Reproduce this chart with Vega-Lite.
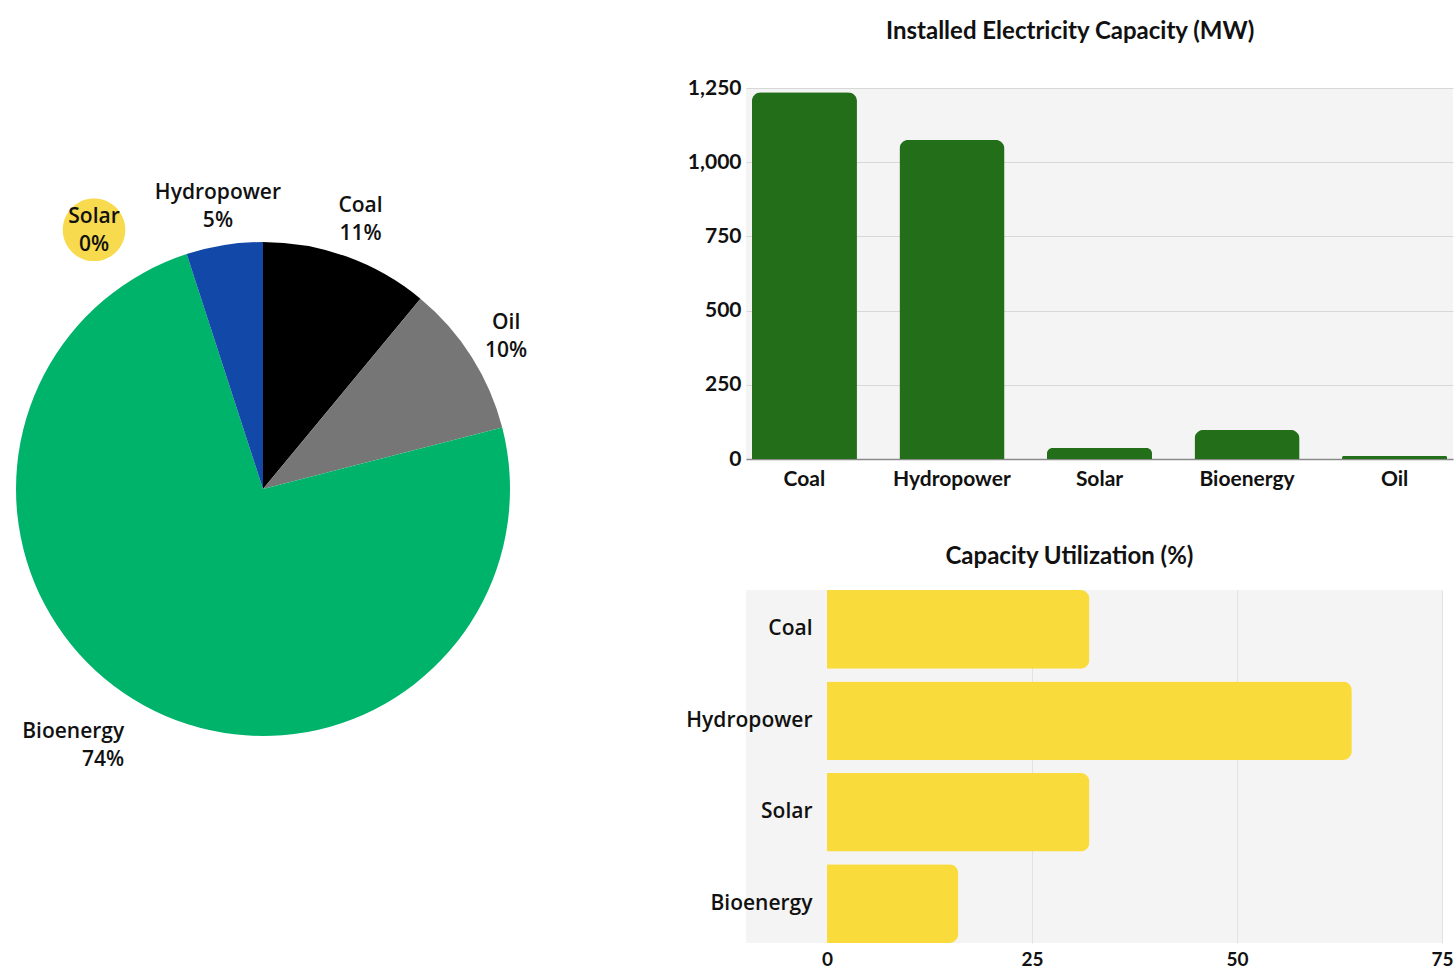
{
  "$schema": "https://vega.github.io/schema/vega-lite/v6.json",
  "padding": {"top": 20, "left": 0, "right": 0, "bottom": 0},
  "background": "#ffffff",
  "config": {"view": {"stroke": null}},
  "datasets": {
    "share": [
      {"k": 1, "source": "Coal", "share": 11, "label": "Coal\n11%"},
      {"k": 2, "source": "Oil", "share": 10, "label": "Oil\n10%"},
      {"k": 3, "source": "Bioenergy", "share": 74, "label": "Bioenergy\n74%"},
      {"k": 4, "source": "Hydropower", "share": 5, "label": "Hydropower\n5%"},
      {"k": 5, "source": "Solar", "share": 0, "label": "Solar\n0%"}
    ],
    "capacity": [
      {"source": "Coal", "capacity": 1236},
      {"source": "Hydropower", "capacity": 1075},
      {"source": "Solar", "capacity": 37},
      {"source": "Bioenergy", "capacity": 98},
      {"source": "Oil", "capacity": 10}
    ],
    "util": [
      {"source": "Coal", "util": 32},
      {"source": "Hydropower", "util": 64},
      {"source": "Solar", "util": 32},
      {"source": "Bioenergy", "util": 16}
    ]
  },
  "spacing": 157,
  "hconcat": [
    {
      "width": 526,
      "height": 802,
      "view": {"fill": "#ffffff", "stroke": null},
      "data": {"name": "share"},
      "encoding": {
        "theta": {"field": "share", "type": "quantitative", "stack": true},
        "order": {"field": "k", "type": "quantitative"}
      },
      "layer": [
        {
          "mark": {"type": "arc", "outerRadius": 247},
          "encoding": {
            "color": {
              "field": "source",
              "type": "nominal",
              "scale": {
                "domain": ["Coal", "Oil", "Bioenergy", "Hydropower", "Solar"],
                "range": ["#000000", "#767676", "#00b36a", "#1249a8", "#f8da4e"]
              },
              "legend": null
            }
          }
        },
        {
          "mark": {"type": "text", "radius": 288, "dy": -12, "font": "Open Sans", "fontWeight": 600, "fontSize": 21, "lineBreak": "\n", "lineHeight": 28, "color": "#111111", "align": "center", "baseline": "middle"},
          "encoding": {
            "text": {"condition": {"test": "datum.source == 'Coal' || datum.source == 'Oil' || datum.source == 'Hydropower'", "field": "label"}, "value": ""}
          }
        },
        {
          "mark": {"type": "text", "radius": 288, "dy": -9, "font": "Open Sans", "fontWeight": 600, "fontSize": 21, "lineBreak": "\n", "lineHeight": 28, "color": "#111111", "align": "right", "baseline": "middle"},
          "encoding": {
            "text": {"condition": {"test": "datum.source == 'Bioenergy'", "field": "label"}, "value": ""}
          }
        },
        {
          "transform": [{"filter": "datum.source == 'Solar'"}],
          "mark": {"type": "text", "radius": 288, "dx": -169, "dy": 25, "font": "DejaVu Sans", "fontSize": 82, "color": "#f8da4e", "align": "center", "baseline": "middle"},
          "encoding": {
            "text": {"value": "●"}
          }
        },
        {
          "transform": [{"filter": "datum.source == 'Solar'"}],
          "mark": {"type": "text", "radius": 288, "dx": -169, "dy": 16, "font": "Open Sans", "fontWeight": 600, "fontSize": 21, "lineBreak": "\n", "lineHeight": 28, "color": "#111111", "align": "center", "baseline": "middle"},
          "encoding": {
            "text": {"field": "label"}
          }
        }
      ]
    },
    {
      "spacing": 56,
      "vconcat": [
        {
          "width": 707,
          "height": 371,
          "data": {"name": "capacity"},
          "title": {"text": "Installed Electricity Capacity (MW)", "font": "Lato", "fontSize": 24, "fontWeight": "bold", "color": "#111111", "anchor": "middle", "frame": "bounds", "offset": 33},
          "view": {"fill": "#f4f4f4", "stroke": null},
          "mark": {"type": "bar", "color": "#236e18", "cornerRadiusEnd": 9},
          "encoding": {
            "x": {
              "field": "source", "type": "nominal", "sort": null,
              "scale": {"paddingInner": 0.288, "paddingOuter": 0.04},
              "axis": {"title": null, "labelAngle": 0, "labelFont": "Lato", "labelFontWeight": "bold", "labelFontSize": 21, "labelColor": "#111111", "labelPadding": 9, "ticks": false, "domainColor": "#8a8a8a", "domainWidth": 1.5}
            },
            "y": {
              "field": "capacity", "type": "quantitative",
              "scale": {"domain": [0, 1250], "nice": false},
              "axis": {"title": null, "values": [0, 250, 500, 750, 1000, 1250], "format": ",.0f", "labelFont": "Lato", "labelFontWeight": "bold", "labelFontSize": 21, "labelColor": "#111111", "labelPadding": 5, "labelFlush": false, "ticks": false, "domain": false, "gridColor": "#d8d8d8"}
            }
          }
        },
        {
          "width": 696,
          "height": 353,
          "data": {"name": "util"},
          "title": {"text": "Capacity Utilization (%)", "font": "Lato", "fontSize": 24, "fontWeight": "bold", "color": "#111111", "anchor": "middle", "frame": "bounds", "offset": 21},
          "view": {"fill": "#f4f4f4", "stroke": null},
          "mark": {"type": "bar", "color": "#f9dc3b", "cornerRadiusEnd": 9},
          "encoding": {
            "y": {
              "field": "source", "type": "nominal", "sort": null,
              "scale": {"paddingInner": 0.14, "paddingOuter": 0},
              "axis": {"title": null, "labelFont": "Open Sans", "labelFontWeight": 600, "labelFontSize": 21, "labelColor": "#111111", "labelPadding": -66, "ticks": false, "domain": false}
            },
            "x": {
              "field": "util", "type": "quantitative",
              "scale": {"domain": [-9.88, 75], "nice": false, "zero": false},
              "axis": {"title": null, "values": [0, 25, 50, 75], "labelFont": "Lato", "labelFontWeight": "bold", "labelFontSize": 19, "labelColor": "#111111", "labelPadding": 7, "labelFlush": false, "ticks": false, "domain": false, "gridColor": "#e2e2e2", "gridOpacity": {"condition": {"test": "datum.value === 0", "value": 0}, "value": 1}}
            }
          }
        }
      ]
    }
  ]
}
